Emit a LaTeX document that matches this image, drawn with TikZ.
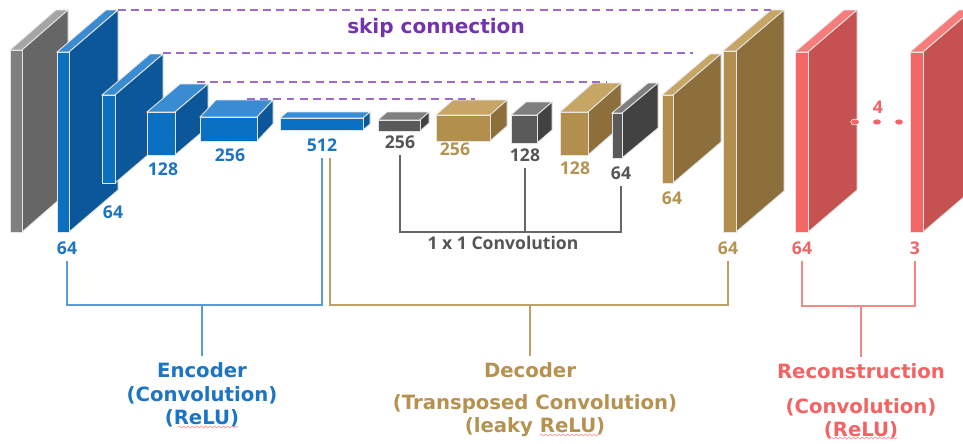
\documentclass[tikz,border=0pt]{standalone}
\usepackage{fontspec}
\setmainfont{DejaVu Sans}
\newfontfamily\numfont{Open Sans}
\usepackage{xcolor}
\usepackage{tikz}
\usetikzlibrary{decorations.pathmorphing}

% face colours of the feature-map blocks
\definecolor{inpfront}{HTML}{7F7F7F}
\definecolor{inpside}{HTML}{666666}
\definecolor{inptop}{HTML}{A5A5A5}
\definecolor{encfront}{HTML}{0A70C2}
\definecolor{encside}{HTML}{0B579A}
\definecolor{enctop}{HTML}{3A8CD2}
\definecolor{midfront}{HTML}{5A5A5A}
\definecolor{midside}{HTML}{424242}
\definecolor{midtop}{HTML}{7E7E7E}
\definecolor{decfront}{HTML}{B38F4E}
\definecolor{decside}{HTML}{8C6F3A}
\definecolor{dectop}{HTML}{C6A565}
\definecolor{recfront}{HTML}{F46666}
\definecolor{recside}{HTML}{C65151}
\definecolor{rectop}{HTML}{F77C7C}
% text and line colours
\definecolor{enctext}{HTML}{1B74C4}
\definecolor{encline}{HTML}{5B9BD5}
\definecolor{midtext}{HTML}{555555}
\definecolor{dectext}{HTML}{B5924F}
\definecolor{decline}{HTML}{BFA068}
\definecolor{rectext}{HTML}{F26464}
\definecolor{recline}{HTML}{F48888}
\definecolor{skiptext}{HTML}{7433AE}
\definecolor{skipline}{HTML}{9C6BCF}

% front x, front y, width, height, depth x, depth y, colour
\newcommand{\convbox}[7]{%
  \filldraw[boxedge, fill=#7top] (#1,#2) -- ++(#5,-#6) -- ++(#3,0) -- ++(-#5,#6) -- cycle;
  \filldraw[boxedge, fill=#7side] (#1+#3,#2) -- ++(#5,-#6) -- ++(0,#4) -- ++(-#5,#6) -- cycle;
  \filldraw[boxedge, fill=#7front] (#1,#2) rectangle ++(#3,#4);
}

\begin{document}
\begin{tikzpicture}[x=0.02cm, y=-0.02cm,
    boxedge/.style={draw=white!80!gray, line width=0.5pt},
    skip/.style={draw=skipline, line width=0.9pt, dash pattern=on 4.5pt off 3pt},
    num/.style={font=\numfont\fontsize{10}{12}\selectfont\bfseries},
    title/.style={font=\fontsize{11.2}{13}\selectfont\bfseries},
    bracket/.style={line width=0.9pt},
    spell/.style={draw=red!40, line width=0.4pt, decorate,
        decoration={snake, amplitude=0.5pt, segment length=2.5pt}}]
    \clip (0,0) rectangle (963,443);

    % Input and encoder
    \convbox{10}{50}{12}{182}{46}{40}{inp}
    \foreach \x/\y/\w/\h/\dx/\dy in {57/52/12/180/49/42, 102/95/13/88/48/41, 147/112/28/43/33/28,
        200/117/57/24/16/17, 280/118/83/12/7/6} {
        \convbox{\x}{\y}{\w}{\h}{\dx}{\dy}{enc}
    }

    % Decoder with 1x1 convolutions
    \foreach \x/\y/\w/\h/\dx/\dy/\col in {378/120/42/11/9/8/mid, 436/115/54/26/17/15/dec,
        511/115/26/28/15/13/mid, 560/112/28/43/33/29/dec, 612/113/10/45/36/30/mid,
        662/95/11/88/48/41/dec, 723/51/13/181/48/41/dec} {
        \convbox{\x}{\y}{\w}{\h}{\dx}{\dy}{\col}
    }

    % Reconstruction
    \convbox{795}{52}{13}{180}{49}{42}{rec}
    \convbox{910}{52}{13}{180}{49}{42}{rec}
    \foreach \x in {855,877,899} {
        \fill[recfront, draw=white, line width=0.3pt] (\x,122) ellipse (2.5pt and 1.7pt);
    }
    \node[num, text=rectext] (r4) at (878,107) {4};

    % Skip connections
    \draw[skip] (118,10) -- (771,10);
    \draw[skip] (163,53) -- (693,53);
    \draw[skip] (197,82) -- (607,82);
    \draw[skip] (247,99) -- (475,99);
    \node[font=\fontsize{11.4}{13}\selectfont\bfseries, text=skiptext] (skip) at (436,28) {skip connection};

    % Channel numbers
    \node[num, text=enctext] (e64a) at (67,248) {64};
    \node[num, text=enctext] (e64b) at (113,212) {64};
    \node[num, text=enctext] (e128) at (163,169) {128};
    \node[num, text=enctext] (e256) at (230,155) {256};
    \node[num, text=enctext] (e512) at (322,145) {512};
    \node[num, text=midtext] (g256) at (400,142) {256};
    \node[num, text=midtext] (g128) at (525,155) {128};
    \node[num, text=midtext] (g64) at (621,173) {64};
    \node[num, text=dectext] (d256) at (455,149) {256};
    \node[num, text=dectext] (d128) at (575,168) {128};
    \node[num, text=dectext] (d64a) at (672,198) {64};
    \node[num, text=dectext] (d64b) at (728,248) {64};
    \node[num, text=rectext] (r64) at (802,248) {64};
    \node[num, text=rectext] (r3) at (915,248) {3};

    % 1 x 1 convolution bracket
    \coordinate (convjoin) at (525,232);
    \draw[bracket, draw=midtext!90] (g256.south) |- (convjoin) -| (g64.south);
    \draw[bracket, draw=midtext!90] (g128.south) -- (convjoin);
    \node[num, text=midtext] (conv11) at (503,243) {1 x 1 Convolution};

    % Group titles
    \node[title, text=enctext] (enc) at (202,370) {Encoder};
    \node[title, text=enctext] (encconv) at (202,395) {(Convolution)};
    \node[title, text=enctext] (encrelu) at (202,418) {(ReLU)};
    \node[title, text=dectext] (dec) at (530,370) {Decoder};
    \node[title, text=dectext] (decconv) at (535,404) {(Transposed Convolution)};
    \node[title, text=dectext] (decrelu) at (535,427) {(leaky ReLU)};
    \node[title, text=rectext] (rec) at (861,371) {Reconstruction};
    \node[title, text=rectext] (recconv) at (861,407) {(Convolution)};
    \node[title, text=rectext] (recrelu) at (861,430) {(ReLU)};
    \draw[spell] (178,427) -- (238,427);
    \draw[spell] (540,435) -- (598,435);
    \draw[spell] (830,438) -- (898,438);

    % Group brackets
    \coordinate (encjoin) at (202,305);
    \coordinate (decjoin) at (530,305);
    \coordinate (recjoin) at (861,306);
    \draw[bracket, draw=encline] (e64a.south) |- (encjoin) -| (e512.south);
    \draw[bracket, draw=encline] (encjoin) -- (enc.north);
    \draw[bracket, draw=decline] ([xshift=4.5pt]e512.south) |- (decjoin) -| (d64b.south);
    \draw[bracket, draw=decline] (decjoin) -- (dec.north);
    \draw[bracket, draw=recline] (r64.south) |- (recjoin) -| (r3.south);
    \draw[bracket, draw=recline] (recjoin) -- (rec.north);
\end{tikzpicture}
\end{document}
